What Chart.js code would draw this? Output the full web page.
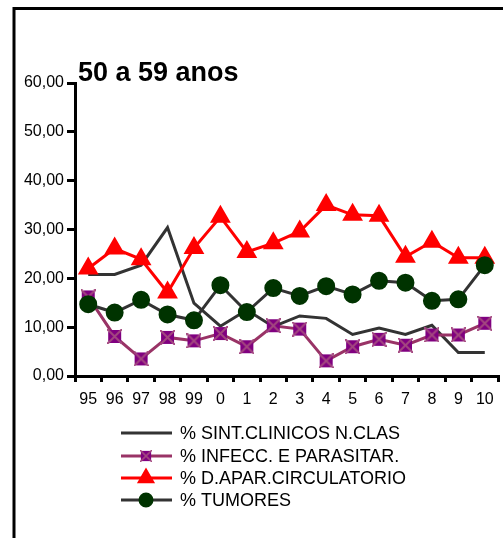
<!DOCTYPE html>
<html>
<head>
<meta charset="utf-8">
<script src="https://cdn.jsdelivr.net/npm/chart.js"></script>
<style>
  html, body { margin: 0; padding: 0; background: #fff; overflow: hidden; }
  #wrap { position: relative; width: 503px; height: 538px; overflow: hidden; }
  canvas { position: absolute; left: 0; top: 0; }
</style>
</head>
<body>
<div id="wrap"><canvas id="chart" width="510" height="538"></canvas></div>
<script>
// anos (eixo x)
const years = ['95', '96', '97', '98', '99', '0', '1', '2', '3', '4', '5', '6', '7', '8', '9', '10'];
// séries em %
const sintClinicos = [20.8, 20.8, 22.7, 30.4, 14.9, 10.2, 13.5, 10.1, 12.3, 11.8, 8.5, 9.8, 8.5, 10.4, 4.8, 4.8];
const infecc = [16.2, 8.1, 3.5, 7.9, 7.2, 8.7, 6.0, 10.3, 9.6, 3.1, 6.0, 7.5, 6.3, 8.4, 8.4, 10.8];
const circulatorio = [22.0, 26.1, 23.9, 17.1, 26.2, 32.6, 25.4, 27.2, 29.6, 35.0, 33.0, 32.8, 24.4, 27.5, 24.2, 24.2];
const tumores = [14.7, 13.0, 15.6, 12.6, 11.4, 18.6, 13.1, 18.0, 16.4, 18.4, 16.7, 19.5, 19.1, 15.4, 15.7, 22.7];
const yTicks = [0, 10, 20, 30, 40, 50, 60];

const FONT = "'Liberation Sans', Arial, sans-serif";

// marcador quadrado roxo com X
function crossSquare(size) {
    const c = document.createElement('canvas');
    c.width = size; c.height = size;
    const g = c.getContext('2d');
    g.fillStyle = '#800080';
    g.fillRect(1, 1, size - 2, size - 2);
    g.strokeStyle = '#A3477F';
    g.lineWidth = 2;
    g.beginPath();
    g.moveTo(0, 0); g.lineTo(size, size);
    g.moveTo(size, 0); g.lineTo(0, size);
    g.stroke();
    return c;
}
const purpleMark = crossSquare(15);

const framePlugin = {
    id: 'frame',
    afterDraw(chart) {
        const ctx = chart.ctx;
        const area = chart.chartArea;
        ctx.save();
        // moldura
        ctx.strokeStyle = '#000';
        ctx.lineWidth = 3;
        ctx.strokeRect(14, 8.5, 700, 700);
        // título
        ctx.fillStyle = '#000';
        ctx.font = 'bold 27px ' + FONT;
        ctx.textBaseline = 'alphabetic';
        ctx.textAlign = 'left';
        ctx.fillText('50 a 59 anos', area.left + 3, 81);
        // legenda
        const rows = [433, 456, 478, 500];
        ctx.font = '18px ' + FONT;
        ctx.textBaseline = 'middle';
        chart.data.datasets.forEach((ds, i) => {
            const y = rows[i];
            ctx.strokeStyle = ds.borderColor;
            ctx.lineWidth = 3;
            ctx.beginPath();
            ctx.moveTo(121, y);
            ctx.lineTo(172, y);
            ctx.stroke();
            if (ds.pointStyle instanceof HTMLCanvasElement) {
                ctx.drawImage(ds.pointStyle, 140, y - 6, 12, 12);
            } else if (ds.pointRadius > 0) {
                ctx.fillStyle = ds.pointBackgroundColor;
                ctx.strokeStyle = ds.pointBorderColor;
                Chart.helpers.drawPoint(ctx, { pointStyle: ds.pointStyle, radius: ds.pointRadius - 1.5, rotation: 0, borderWidth: 1 }, 146, y);
            }
            ctx.fillStyle = '#000';
            ctx.fillText(ds.label, 180, y + 1);
        });
        ctx.restore();
    }
};

const ctx = document.getElementById('chart').getContext('2d');
const chart = new Chart(ctx, {
    type: 'line',
    data: {
        labels: years,
        datasets: [
            {
                label: '% SINT.CLINICOS N.CLAS',
                data: sintClinicos,
                borderColor: '#333333',
                borderWidth: 3,
                pointRadius: 0,
                order: 3
            },
            {
                label: '% INFECC. E PARASITAR.',
                data: infecc,
                borderColor: '#993366',
                borderWidth: 3,
                pointStyle: purpleMark,
                pointRadius: 7,
                order: 2
            },
            {
                label: '% D.APAR.CIRCULATORIO',
                data: circulatorio,
                borderColor: '#FF0000',
                borderWidth: 3,
                pointStyle: 'triangle',
                pointRadius: 9,
                pointBackgroundColor: '#FF0000',
                pointBorderColor: '#FF0000',
                order: 1
            },
            {
                label: '% TUMORES',
                data: tumores,
                borderColor: '#333333',
                borderWidth: 3,
                pointStyle: 'circle',
                pointRadius: 7.5,
                pointBackgroundColor: '#003300',
                pointBorderColor: '#003300',
                order: 0
            }
        ]
    },
    options: {
        responsive: false,
        animation: false,
        layout: { padding: { left: 0, right: 2, top: 83, bottom: 132 } },
        plugins: {
            legend: { display: false },
            tooltip: { enabled: false },
            title: { display: false }
        },
        elements: { line: { tension: 0 } },
        scales: {
            x: {
                offset: true,
                grid: { drawOnChartArea: false, color: '#000', tickLength: 6, lineWidth: 3, offset: true },
                border: { color: '#000', width: 3 },
                ticks: { color: '#000', font: { family: FONT, size: 16 }, padding: 8, maxRotation: 0, autoSkip: false },
                afterFit: (scale) => { scale.height = 30; }
            },
            y: {
                min: 0,
                max: 60,
                afterBuildTicks: (scale) => { scale.ticks = yTicks.map(v => ({ value: v })); },
                grid: { drawOnChartArea: false, color: '#000', tickLength: 8, lineWidth: 3 },
                border: { color: '#000', width: 3 },
                ticks: {
                    color: '#000',
                    font: { family: FONT, size: 16 },
                    padding: 3,
                    callback: (v) => v.toFixed(2).replace('.', ',')
                },
                afterFit: (scale) => { scale.width = 75; }
            }
        }
    },
    plugins: [framePlugin]
});
</script>
</body>
</html>
